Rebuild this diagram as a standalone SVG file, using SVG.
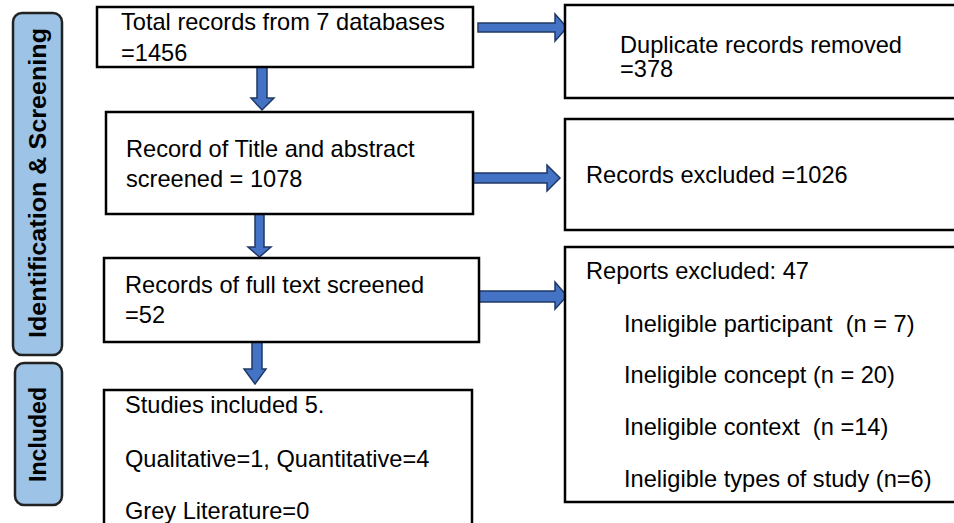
<svg xmlns="http://www.w3.org/2000/svg" width="954" height="523" viewBox="0 0 954 523">
<style>
.box{fill:#fff;stroke:#000;stroke-width:2.5}
.side{fill:#9dc3e6;stroke:#222;stroke-width:2.5}
.t{font-family:"Liberation Sans",Arial,sans-serif;font-size:23.6px;fill:#000;white-space:pre}
.s{font-family:"Liberation Sans",Arial,sans-serif;font-size:23px;font-weight:bold;fill:#000}
.arr{fill:#4472c4;stroke:#1f3864;stroke-width:1.5;stroke-linejoin:miter}
</style>
<rect width="954" height="523" fill="#fff"/>
<g id="side-identification">
<rect class="side" x="13" y="13" width="49" height="342" rx="9"/>
<text class="s" transform="translate(46,338) rotate(-90)" textLength="310" lengthAdjust="spacingAndGlyphs">Identification &amp; Screening</text>
</g>
<g id="side-included">
<rect class="side" x="15" y="363" width="47" height="142" rx="9"/>
<text class="s" transform="translate(46,482) rotate(-90)" textLength="95" lengthAdjust="spacingAndGlyphs">Included</text>
</g>
<g id="connectors">
<path class="arr" d="M478,23 H555 V14 L567,27.5 L555,41 V32 H478 Z"/>
<path class="arr" d="M471,173 H547 V165 L560,178 L547,191 V183 H471 Z"/>
<path class="arr" d="M478,291 H555 V282 L567,296 L555,309 V302 H478 Z"/>
<path class="arr" d="M257,67 H267 V98 H274 L262,110 L251,98 H257 Z"/>
<path class="arr" d="M255,214 H264 V247 H271 L259.5,257 L248,247 H255 Z"/>
<path class="arr" d="M252,342 H262 V369 H266 L255,384 L244,369 H252 Z"/>
</g>
<g id="n-total">
<rect class="box" x="97" y="7" width="376" height="60"/>
<text class="t" x="121" y="30">Total records from 7 databases</text>
<text class="t" x="121" y="61">=1456</text>
</g>
<g id="n-duplicate">
<rect class="box" x="565" y="5" width="400" height="93"/>
<text class="t" x="620" y="53">Duplicate records removed</text>
<text class="t" x="620" y="77">=378</text>
</g>
<g id="n-title">
<rect class="box" x="106" y="112" width="367" height="102"/>
<text class="t" x="126" y="157">Record of Title and abstract</text>
<text class="t" x="126" y="187">screened = 1078</text>
</g>
<g id="n-excluded">
<rect class="box" x="565" y="119" width="400" height="111"/>
<text class="t" x="586" y="183">Records excluded =1026</text>
</g>
<g id="n-fulltext">
<rect class="box" x="104" y="258" width="375" height="84"/>
<text class="t" x="125" y="293">Records of full text screened</text>
<text class="t" x="125" y="323">=52</text>
</g>
<g id="n-reports">
<rect class="box" x="565" y="247" width="400" height="255"/>
<text class="t" x="586" y="279">Reports excluded: 47</text>
<text class="t" x="624" y="332" xml:space="preserve">Ineligible participant  (n = 7)</text>
<text class="t" x="624" y="383">Ineligible concept (n = 20)</text>
<text class="t" x="624" y="435" xml:space="preserve">Ineligible context  (n =14)</text>
<text class="t" x="624" y="487">Ineligible types of study (n=6)</text>
</g>
<g id="n-included">
<rect class="box" x="104" y="390" width="368" height="150"/>
<text class="t" x="125" y="413">Studies included 5.</text>
<text class="t" x="125" y="467">Qualitative=1, Quantitative=4</text>
<text class="t" x="125" y="519">Grey Literature=0</text>
</g>
</svg>
